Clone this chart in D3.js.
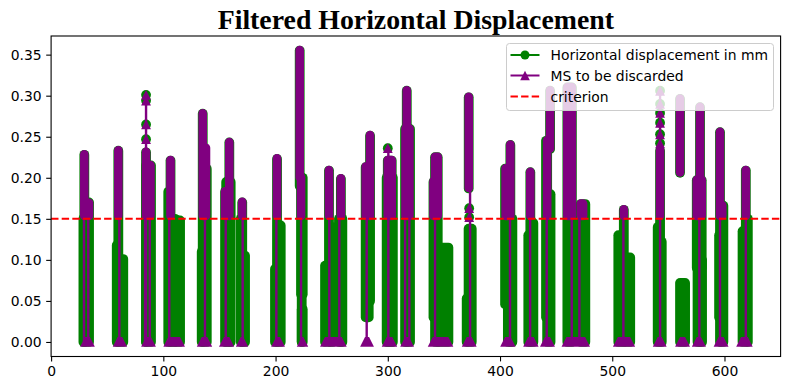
<!DOCTYPE html>
<html><head><meta charset="utf-8">
<script src="https://cdn.jsdelivr.net/npm/d3@7/dist/d3.min.js"></script>
<style>body{margin:0;background:#fff}</style>
</head><body><svg id="c" width="790" height="390"></svg>
<script>
const titleText = "Filtered Horizontal Displacement";
const seriesNames = ["Horizontal displacement in mm", "MS to be discarded", "criterion"];
const criterion = 0.15;
const xTicks = [0, 100, 200, 300, 400, 500, 600];
const yTicks = [0, 0.05, 0.10, 0.15, 0.20, 0.25, 0.30, 0.35];

// Horizontal displacement (green): runs of dense points [xStart, xEnd, yLow, yHigh]
const greenRuns = [
  [29.6,29.6,0,0.228],[31.5,33.8,0,0.170],[28.8,29.6,0,0.15],
  [59.9,59.9,0,0.233],[58.5,58.5,0,0.118],[61,64.3,0,0.101],
  [84.6,84.6,0,0.231],[84.6,89,0,0.215],
  [106.4,106.4,0,0.221],[104.4,104.4,0,0.183],[107,110.5,0,0.15],[110.5,114.9,0,0.148],
  [135.1,135.1,0,0.278],[134.2,134.2,0,0.11],[136,138.7,0,0.211],
  [158.8,158.8,0,0.243],[155,155,0,0.183],[156,160,0,0.195],
  [170.3,170.3,0,0.170],[169,169,0,0.15],[171,172.8,0,0.105],
  [201.3,201.3,0,0.223],[199.5,199.5,0,0.089],[202,204.6,0,0.142],
  [221.5,221.5,0.19,0.355],[222.7,224.2,0.058,0.2],[223.3,224.2,0,0.040],[223.3,223.3,0,0.2],
  [247.6,247.6,0,0.2088],[244.1,244.1,0,0.093],[249,251,0,0.14],
  [258.2,258.2,0,0.1987],[256.5,259.5,0,0.15],
  [284.2,284.2,0.05,0.2513],[280.3,283,0.03,0.213],
  [300,303.5,0,0.221],[299,304.5,0,0.2],
  [316.9,316.9,0,0.306],[315.4,319.8,0,0.2595],
  [342.1,344.5,0,0.225],[340.7,340.7,0.03,0.195],[345,354,0,0.115],
  [372.1,372.1,0.187,0.298],[372,374.8,0,0.138],[370.3,370.3,0,0.053],
  [409.2,409.2,0,0.240],[404.5,405.5,0.046,0.211],[407,411,0,0.15],
  [427,427,0,0.2068],[425.2,425.2,0,0.13],[428,429.7,0,0.145],
  [444.6,444.6,0.235,0.306],[441,442,0.03,0.245],[442,445,0,0.18],
  [460,464,0,0.31],[472,476,0,0.168],
  [510.3,510.3,0,0.161],[505.4,508,0,0.13],[512,516,0,0.103],
  [542.6,542.6,0,0.233],[540.5,540.5,0,0.14],[543.5,544.1,0,0.122],
  [560.4,560.4,0.206,0.296],[560.4,564.9,0,0.072],
  [578.2,578.2,0,0.286],[575.3,579.7,0.09,0.197],[576,580,0,0.1],
  [596,596,0,0.2555],[595.2,595.2,0.03,0.13],[597.5,599,0,0.166],
  [619,619,0,0.2088],[616.1,616.1,0,0.135],[620.8,620.8,0,0.15]
];

// MS to be discarded (purple): runs above the criterion [xStart, xEnd, yLow, yHigh]
const purpleRuns = [
  [29.6,29.6,0.153,0.228],[32,33.8,0.153,0.169],
  [59.9,59.9,0.153,0.233],
  [84.6,84.6,0.153,0.231],[85.5,88.5,0.153,0.215],
  [106.4,106.4,0.153,0.221],
  [135.1,135.1,0.153,0.278],[136,138,0.153,0.236],
  [158.8,158.8,0.153,0.243],[155,157,0.153,0.183],
  [170.3,170.3,0.153,0.170],
  [201.3,201.3,0.153,0.223],
  [221.5,221.5,0.2,0.355],[222.7,222.7,0.153,0.2],
  [247.6,247.6,0.153,0.2088],
  [258.2,258.2,0.153,0.1987],
  [284.2,284.2,0.153,0.2513],[280.3,282,0.153,0.213],
  [300,303.5,0.153,0.221],
  [316.9,316.9,0.153,0.306],[315.8,319.3,0.153,0.2595],
  [342.1,344.5,0.153,0.225],[340.7,342,0.153,0.195],
  [372.1,372.1,0.187,0.298],
  [409.2,409.2,0.153,0.240],[405,407,0.153,0.211],
  [427,427,0.153,0.2068],
  [444.6,444.6,0.235,0.306],[442,442,0.153,0.245],
  [460,464,0.153,0.31],[472,474,0.153,0.168],
  [510.3,510.3,0.153,0.161],
  [542.6,542.6,0.153,0.233],
  [560.4,560.4,0.206,0.296],
  [578.2,578.2,0.153,0.286],[575.3,579.7,0.153,0.197],
  [596,596,0.153,0.2555],[597.5,598,0.153,0.166],
  [619,619,0.153,0.2088]
];

// isolated points present in both series [x, y]
const isolatedPoints = [
  [84.6,0.301],[84.6,0.294],[84.6,0.265],[84.6,0.247],
  [300,0.236],
  [372.5,0.163],[372.5,0.152],
  [542.6,0.306],[542.6,0.290],[542.6,0.279],[542.6,0.267],[542.6,0.253],[542.6,0.242]
];

// purple jumps from 0 up to discarded values [x, yTop]
const purpleJumps = [
  [29.3,0.16],[33.1,0.16],[60.8,0.16],[83.7,0.16],[84.6,0.301],[87.9,0.16],[105.3,0.16],
  [137.1,0.16],[155.6,0.16],[170.7,0.16],[200.7,0.16],[222.7,0.2],[247.9,0.16],[256.8,0.16],
  [281.2,0.16],[300.5,0.236],[315.4,0.16],[319.2,0.16],[342.1,0.16],[373.3,0.187],[408.9,0.16],
  [426.8,0.16],[441.6,0.16],[463.9,0.16],[470.7,0.16],[509.9,0.16],[542.6,0.306],[577.6,0.16],
  [596,0.16],[619,0.16]
];

// purple zero runs [xStart, xEnd] at y = 0
const purpleZeroRuns = [
  [30.2,34.6],[59.3,63.4],[84.6,89],[104.4,114.9],[134.2,139.2],[154,158.8],[169,171.3],
  [200.4,204],[223.3,224.7],[244,259],[279.7,283.3],[299,304],[315.4,319],[340,354],
  [370.3,374.8],[404.5,409.5],[425,430],[440,444.6],[459.2,475.8],[505,516],[540.5,544.1],
  [560.4,564.9],[575.3,579.1],[594.7,599.2],[614.8,620.8]
];

const GREEN = "#008000", PURPLE = "#800080", RED = "#ff0000";
const svg = d3.select("#c");
const L = 51.1, R = 780.6, T = 36, B = 356.5;
const x = d3.scaleLinear().domain([0, 650]).range([L, R]);
const y = d3.scaleLinear().domain([-0.0177, 0.3727]).range([B, T]);
const RG = 4.9, RP = 4.3, TRI = 4.9;

svg.append("defs").append("clipPath").attr("id","clip")
  .append("rect").attr("x",L).attr("y",T).attr("width",R-L).attr("height",B-T);
const plot = svg.append("g").attr("clip-path","url(#clip)");

// green
plot.append("g").selectAll("rect").data(greenRuns).join("rect")
  .attr("x", d => x(d[0]) - RG).attr("width", d => x(d[1]) - x(d[0]) + 2*RG)
  .attr("y", d => y(d[3]) - RG).attr("height", d => y(d[2]) - y(d[3]) + 2*RG)
  .attr("rx", RG).attr("fill", GREEN);
plot.append("g").selectAll("circle").data(isolatedPoints).join("circle")
  .attr("cx", d => x(d[0])).attr("cy", d => y(d[1])).attr("r", RG).attr("fill", GREEN);

// purple
plot.append("g").selectAll("line").data(purpleJumps).join("line")
  .attr("x1", d => x(d[0])).attr("x2", d => x(d[0]))
  .attr("y1", y(0)).attr("y2", d => y(d[1]))
  .attr("stroke", PURPLE).attr("stroke-width", 2.4);
plot.append("g").selectAll("rect").data(purpleRuns).join("rect")
  .attr("x", d => x(d[0]) - RP).attr("width", d => x(d[1]) - x(d[0]) + 2*RP)
  .attr("y", d => y(d[3]) - RP - 0.5).attr("height", d => y(d[2]) - y(d[3]) + 2*RP)
  .attr("rx", RP).attr("fill", PURPLE);
plot.append("g").selectAll("path").data(isolatedPoints).join("path")
  .attr("d", d => { const cx = x(d[0]), cy = y(d[1]);
    return `M${cx},${cy-TRI}L${cx+TRI},${cy+TRI}L${cx-TRI},${cy+TRI}Z`; })
  .attr("fill", PURPLE);
plot.append("g").selectAll("path").data(purpleZeroRuns).join("path")
  .attr("d", d => { const a = x(d[0]), b = x(d[1]), cy = y(0);
    return `M${a-TRI},${cy+TRI}L${a},${cy-TRI}L${b},${cy-TRI}L${b+TRI},${cy+TRI}Z`; })
  .attr("fill", PURPLE);

// criterion
svg.append("line").attr("x1", x(0)).attr("x2", x(650))
  .attr("y1", y(criterion)).attr("y2", y(criterion))
  .attr("stroke", RED).attr("stroke-width", 2).attr("stroke-dasharray", "7.4,3.2");

// axes
const xAxis = svg.append("g").attr("transform", `translate(0,${B})`)
  .call(d3.axisBottom(x).tickValues(xTicks).tickFormat(d3.format("d")).tickSize(4.9).tickPadding(4.5));
const yAxis = svg.append("g").attr("transform", `translate(${L},0)`)
  .call(d3.axisLeft(y).tickValues(yTicks).tickFormat(d3.format(".2f")).tickSize(4.9).tickPadding(4.5));
[xAxis, yAxis].forEach(g => {
  g.select(".domain").remove();
  g.selectAll("line").attr("stroke","#000").attr("stroke-width",1.1);
  g.selectAll("text").attr("font-family","DejaVu Sans").attr("font-size","13.9px").attr("fill","#000");
});
svg.append("rect").attr("x",L).attr("y",T).attr("width",R-L).attr("height",B-T)
  .attr("fill","none").attr("stroke","#000").attr("stroke-width",1.1);

// title
svg.append("text").attr("x", (L+R)/2).attr("y", 29).attr("text-anchor","middle")
  .attr("font-family","Liberation Serif, Times New Roman, serif").attr("font-weight","bold")
  .attr("font-size","27.8px").text(titleText);

// legend
const lg = svg.append("g");
lg.append("rect").attr("x",506.5).attr("y",43.5).attr("width",267).attr("height",67)
  .attr("rx",3).attr("fill","#fff").attr("fill-opacity",0.8).attr("stroke","#cccccc").attr("stroke-width",1);
const rows = [55, 75.5, 96.5];
const colors = [GREEN, PURPLE, RED];
rows.forEach((ry, i) => {
  const ln = lg.append("line").attr("x1",510.5).attr("x2",539.5).attr("y1",ry).attr("y2",ry)
    .attr("stroke",colors[i]).attr("stroke-width",2);
  if (i === 2) ln.attr("stroke-dasharray","7.4,3.2");
  if (i === 0) lg.append("circle").attr("cx",525).attr("cy",ry).attr("r",4.5).attr("fill",GREEN);
  if (i === 1) lg.append("path").attr("d",`M525,${ry-4.8}L529.8,${ry+4.8}L520.2,${ry+4.8}Z`).attr("fill",PURPLE);
  lg.append("text").attr("x",550.5).attr("y",ry).attr("dy","0.36em")
    .attr("font-family","DejaVu Sans").attr("font-size","13.9px").attr("fill","#000")
    .text(seriesNames[i]);
});
</script></body></html>
